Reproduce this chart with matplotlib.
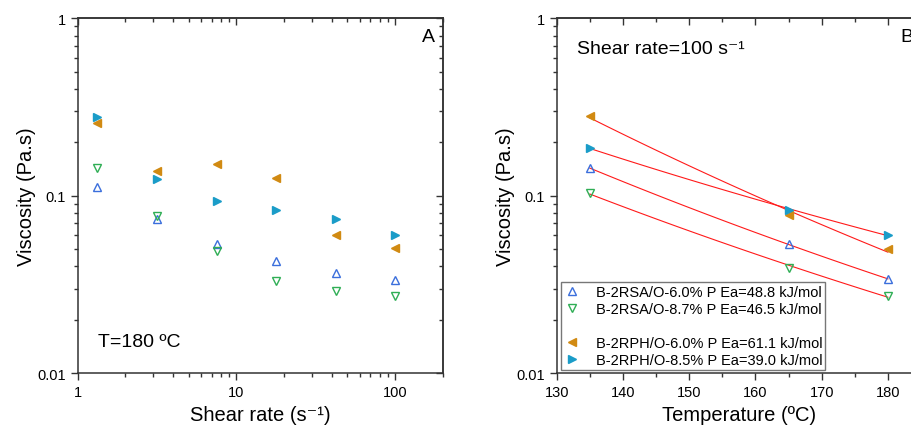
import numpy as np
import matplotlib
matplotlib.use("Agg")
import matplotlib.pyplot as plt
from matplotlib.lines import Line2D
from matplotlib.ticker import FixedLocator, NullFormatter

plt.rcParams['font.family'] = ['Liberation Sans', 'DejaVu Sans']

# panel A: viscosity vs shear rate at 180 C
shear_rate = [1.33, 3.16, 7.5, 17.8, 42.2, 100]
rsa_60 = [0.112, 0.074, 0.0535, 0.043, 0.0367, 0.0337]
rsa_87 = [0.1435, 0.0773, 0.0487, 0.0333, 0.0291, 0.0274]
rph_60 = [0.258, 0.138, 0.152, 0.1255, 0.0605, 0.0506]
rph_85 = [0.277, 0.124, 0.093, 0.0828, 0.074, 0.0604]

# panel B: viscosity vs temperature at 100 1/s
temperature = [135, 165, 180]
rsa_60_T = [0.143, 0.0535, 0.0339]
rsa_87_T = [0.1033, 0.0394, 0.0274]
rph_60_T = [0.280, 0.078, 0.0501]
rph_85_T = [0.186, 0.083, 0.0604]

labels = ['B-2RSA/O-6.0% P Ea=48.8 kJ/mol',
          'B-2RSA/O-8.7% P Ea=46.5 kJ/mol',
          'B-2RPH/O-6.0% P Ea=61.1 kJ/mol',
          'B-2RPH/O-8.5% P Ea=39.0 kJ/mol']

c_blue = '#3b6fdc'
c_green = '#2fae55'
c_orange = '#d18a12'
c_cyan = '#1a9cc8'
spine_c = '#333333'
ms = 6

# minor tick positions for log axes
y_minor = [m * 10.0 ** e for e in (-2, -1) for m in range(2, 10)]
x_minor = [m * 10.0 ** e for e in (0, 1) for m in range(2, 10)] + [200]

fig = plt.figure(figsize=(9.12, 4.31), dpi=100)
ax1 = fig.add_axes([0.0852, 0.1316, 0.4002, 0.8236])
ax2 = fig.add_axes([0.6104, 0.1316, 0.3995, 0.8236])


def set_minor(axis, locs):
    axis.set_minor_locator(FixedLocator(locs))
    axis.set_minor_formatter(NullFormatter())


def style(ax, xmajor, xminor):
    for s in ax.spines.values():
        s.set_color(spine_c)
        s.set_linewidth(1.1)
    ax.set_xticks(xmajor)
    ax.set_yticks([0.01, 0.1, 1])
    ax.set_yticklabels(['0.01', '0.1', '1'])
    set_minor(ax.xaxis, xminor)
    set_minor(ax.yaxis, y_minor)
    ax.tick_params(which='both', direction='out', color=spine_c, width=1.0,
                   labelsize=10.5, top=False, right=False)
    ax.tick_params(which='major', length=5)
    ax.tick_params(which='minor', length=3)
    top = ax.secondary_xaxis('top')
    right = ax.secondary_yaxis('right')
    top.set_xticks(xmajor)
    set_minor(top.xaxis, xminor)
    right.set_yticks([0.01, 0.1, 1])
    set_minor(right.yaxis, y_minor)
    for sec in (top, right):
        sec.tick_params(which='both', direction='in', color=spine_c, width=1.0,
                        labeltop=False, labelright=False)
        sec.tick_params(which='major', length=5)
        sec.tick_params(which='minor', length=3)
        for s in sec.spines.values():
            s.set_color(spine_c)
            s.set_linewidth(1.1)


def series(ax, x, a, b, c, d):
    ax.plot(x, a, ls='none', marker='^', ms=ms, mfc='none', mec=c_blue, mew=1.0)
    ax.plot(x, b, ls='none', marker='v', ms=ms, mfc='none', mec=c_green, mew=1.0)
    ax.plot(x, c, ls='none', marker='<', ms=ms, mfc=c_orange, mec=c_orange)
    ax.plot(x, d, ls='none', marker='>', ms=ms, mfc=c_cyan, mec=c_cyan)


# ---- panel A ----
ax1.set_xscale('log')
ax1.set_yscale('log')
series(ax1, shear_rate, rsa_60, rsa_87, rph_60, rph_85)
ax1.set_xlim(1, 200)
ax1.set_ylim(0.01, 1)
style(ax1, [1, 10, 100], x_minor)
ax1.set_xticklabels(['1', '10', '100'])
ax1.set_xlabel('Shear rate (s\u207b\u00b9)', fontsize=14.5, labelpad=4)
ax1.set_ylabel('Viscosity (Pa.s)', fontsize=14.5, labelpad=1)
ax1.text(0.96, 0.948, 'A', transform=ax1.transAxes, fontsize=14,
         ha='center', va='center')
ax1.text(0.056, 0.089, 'T=180 ºC', transform=ax1.transAxes, fontsize=14,
         ha='left', va='center')

# ---- panel B ----
ax2.set_yscale('log')
series(ax2, temperature, rsa_60_T, rsa_87_T, rph_60_T, rph_85_T)

# Arrhenius fits ln(eta) vs 1/T
T_fit = np.linspace(temperature[0], temperature[-1], 50)
for ys in (rsa_60_T, rsa_87_T, rph_60_T, rph_85_T):
    invT = 1.0 / (np.array(temperature) + 273.15)
    p = np.polyfit(invT, np.log(ys), 1)
    ax2.plot(T_fit, np.exp(np.polyval(p, 1.0 / (T_fit + 273.15))),
             color='#ff1a1a', lw=0.8, zorder=1)

ax2.set_xlim(130, 185)
ax2.set_ylim(0.01, 1)
style(ax2, [130, 140, 150, 160, 170, 180], [135, 145, 155, 165, 175])
ax2.set_xlabel('Temperature (ºC)', fontsize=14.5, labelpad=4)
ax2.set_ylabel('Viscosity (Pa.s)', fontsize=14.5, labelpad=1)
ax2.text(0.055, 0.914, 'Shear rate=100 s\u207b\u00b9', transform=ax2.transAxes,
         fontsize=14, ha='left', va='center')
ax2.text(0.944, 0.948, 'B', transform=ax2.transAxes, fontsize=14,
         ha='left', va='center')

handles = [
    Line2D([], [], ls='none', marker='^', ms=ms, mfc='none', mec=c_blue, mew=1.0),
    Line2D([], [], ls='none', marker='v', ms=ms, mfc='none', mec=c_green, mew=1.0),
    Line2D([], [], ls='none', marker='none'),
    Line2D([], [], ls='none', marker='<', ms=ms, mfc=c_orange, mec=c_orange),
    Line2D([], [], ls='none', marker='>', ms=ms, mfc=c_cyan, mec=c_cyan),
]
leg = ax2.legend(handles, [labels[0], labels[1], ' ', labels[2], labels[3]],
                 loc='lower left', bbox_to_anchor=(0.011, 0.010),
                 borderaxespad=0, fontsize=10.5, frameon=True, fancybox=False,
                 edgecolor='#555555', handlelength=1.2, handletextpad=1.0,
                 labelspacing=0.2, borderpad=0.2)
leg.get_frame().set_linewidth(1.0)

fig.savefig('out.png', dpi=100)
